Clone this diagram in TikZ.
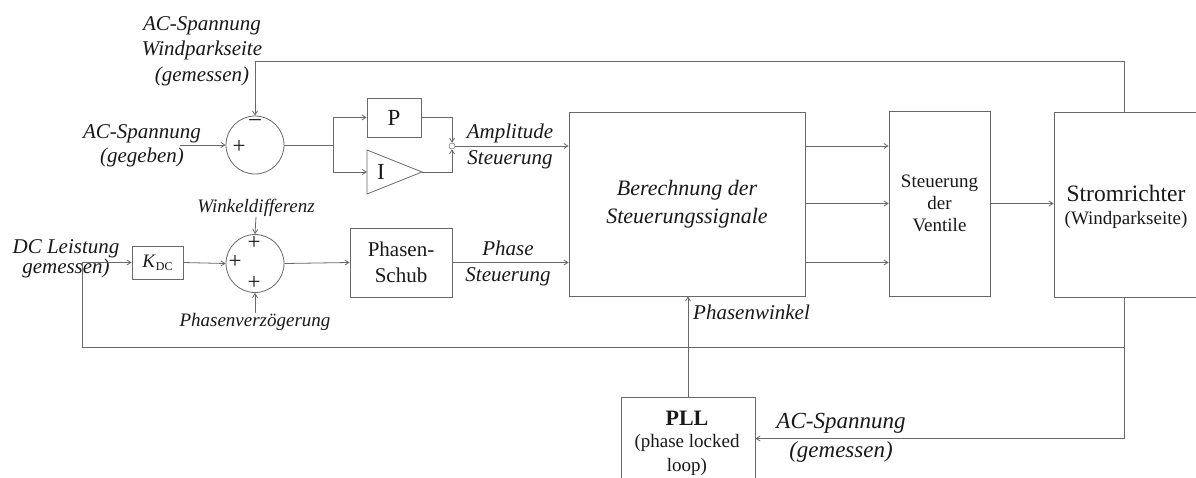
\documentclass[tikz,border=0pt]{standalone}
\usepackage{fontspec}
\setmainfont{Liberation Serif}
\usetikzlibrary{arrows.meta,calc}
\definecolor{ln}{RGB}{105,105,105}
\definecolor{tx}{RGB}{25,25,25}
\begin{document}
\begin{tikzpicture}[x=1pt,y=-1pt,
  line/.style={draw=ln, line width=0.8pt},
  arr/.style={line, -{Straight Barb[length=4pt,width=5pt]}},
  blk/.style={draw=ln, line width=0.8pt, rectangle, inner sep=0pt, text=tx, align=center},
  sumnode/.style={circle, draw=ln, line width=0.8pt, minimum size=58pt, inner sep=0pt},
  sgn/.style={inner sep=0pt, text=tx, font=\fontsize{23}{23}\selectfont},
  itx/.style={inner sep=0pt, text=tx, align=center, font=\itshape\fontsize{21}{25}\selectfont},
  rtx/.style={inner sep=0pt, text=tx, align=center}]
\fill[white] (0,0) rectangle (1196,477);
\useasboundingbox (0,0) rectangle (1196,477);

% blocks
\node[blk, minimum width=236pt, minimum height=184pt, font=\itshape\fontsize{22}{28}\selectfont] (ber) at (687,204) {Berechnung der\\Steuerungssignale};
\node[blk, minimum width=101pt, minimum height=185pt, font=\fontsize{19}{22}\selectfont] (ven) at (939.5,203.5) {Steuerung\\der\\Ventile};
\node[blk, minimum width=150pt, minimum height=185pt] (str) at (1129,204.5) {};
\node[rtx, font=\fontsize{23.5}{26}\selectfont] (strt1) at (1126,193) {Stromrichter};
\node[rtx, font=\fontsize{19}{22}\selectfont] (strt2) at (1126,220) {(Windparkseite)};
\node[blk, minimum width=134pt, minimum height=83pt] (pll) at (688,438.5) {};
\node[rtx, font=\bfseries\fontsize{22}{24}\selectfont] (pllt1) at (687,418) {PLL};
\node[rtx, font=\fontsize{19}{24}\selectfont] (pllt2) at (687,455) {(phase locked\\loop)};
\node[blk, minimum width=54pt, minimum height=39pt, font=\fontsize{23}{23}\selectfont] (P) at (394,117.5) {P};
\draw[line] (367,150) -- (422,172) -- (367,194) -- cycle;
\node[rtx, font=\fontsize{23}{23}\selectfont] (I) at (381,172) {I};
\node[circle, draw=ln, line width=0.5pt, minimum size=6pt, inner sep=0pt] (jn) at (452,146) {};
\node[blk, minimum width=102pt, minimum height=69pt, font=\fontsize{21}{26}\selectfont] (ps) at (401,262.5) {Phasen-\\Schub};
\node[blk, minimum width=51pt, minimum height=33pt, font=\fontsize{19}{19}\selectfont] (kdc) at (157.5,262.5) {\textit{K}\raisebox{-0.35ex}{\fontsize{12}{12}\selectfont DC}};

% summing points
\node[sumnode] (s1) at (255,145) {};
\node[sgn] (s1m) at (255,123) {\textendash};
\node[sgn] (s1p) at (239,147) {+};
\node[sumnode] (s2) at (255,263.5) {};
\node[sgn] (s2t) at (254,243) {+};
\node[sgn] (s2l) at (235,262) {+};
\node[sgn] (s2b) at (254,283) {+};

% labels
\node[itx, font=\itshape\fontsize{21}{25.5}\selectfont] (acw) at (202,51) {AC-Spannung\\Windparkseite\\(gemessen)};
\node[itx, font=\itshape\fontsize{21}{24}\selectfont] (acg) at (142,146) {AC-Spannung\\(gegeben)};
\node[itx, font=\itshape\fontsize{21}{18}\selectfont] (dcl) at (66,259) {DC Leistung\\gemessen)};
\node[itx, font=\itshape\fontsize{21}{26}\selectfont] (amp) at (510,146) {Amplitude\\Steuerung};
\node[itx, font=\itshape\fontsize{21}{26}\selectfont] (pha) at (508,263) {Phase\\Steuerung};
\node[itx, font=\itshape\fontsize{19}{22}\selectfont] (wd) at (256,208) {Winkeldifferenz};
\node[itx, font=\itshape\fontsize{19}{22}\selectfont] (pv) at (255,322) {Phasenverzögerung};
\node[itx, anchor=west] (pw) at (693,312) {Phasenwinkel};
\node[itx, font=\itshape\fontsize{23}{29}\selectfont] (acm) at (841,438) {AC-Spannung\\(gemessen)};

% helper points
\coordinate (tT) at (1124,61);
\coordinate (tB) at (1124,347);
\coordinate (dcc) at (82,347);
\coordinate (acin) at (180,145);
\coordinate (sp) at (333,145);
\coordinate (Iin) at (367,172);
\coordinate (Iout) at (422,172);

% connectors
\draw[line] (str.north -| tT) -- (tT);
\draw[arr] (tT) -| (s1.north);
\draw[arr] (acin) -- (s1.west);
\draw[line] (s1.east) -- (sp);
\draw[arr] (sp) |- (P.west);
\draw[arr] (sp) |- (Iin);
\draw[arr] (P.east) -| (jn.north);
\draw[arr] (Iout) -| (jn.south);
\draw[arr] (jn.east) -- (jn.east -| ber.west);
\draw[arr] (wd.south) -- (s2.north);
\draw[arr] (pv.north) -- (s2.south);
\draw[line] (str.south -| tB) -- (tB);
\draw[arr] (tB) |- (pll.east);
\draw[arr] (tB) -- (dcc) |- (kdc.west);
\draw[arr] (kdc.east) -- (s2.west);
\draw[arr] (s2.east) -- (ps.west);
\draw[arr] (ps.east) -- (ps.east -| ber.west);
\draw[arr] (ber.east |- jn) -- (ven.west |- jn);
\draw[arr] (ber.east |- ven.west) -- (ven.west);
\draw[arr] (ber.east |- ps) -- (ven.west |- ps);
\draw[arr] (ven.east) -- (ven.east -| str.west);
\draw[arr] (pll.north) -- (pll.north |- ber.south);
\end{tikzpicture}
\end{document}
